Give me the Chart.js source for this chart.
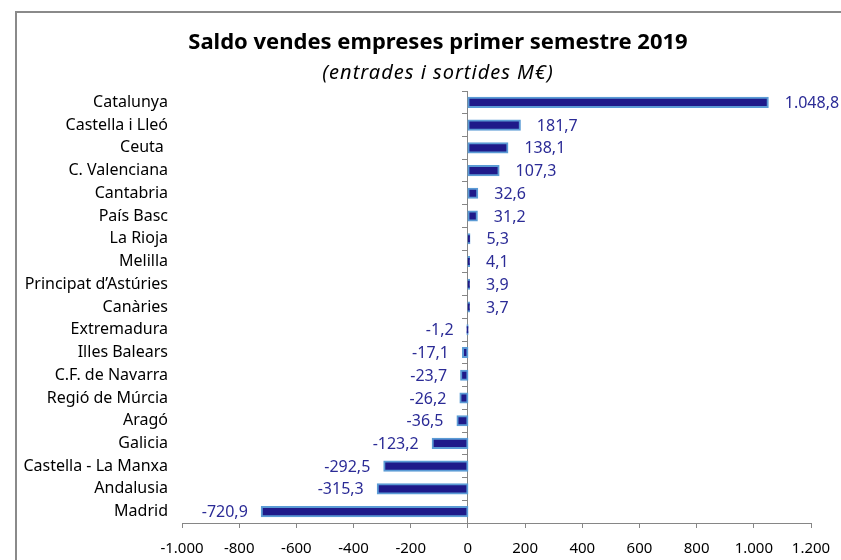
<!DOCTYPE html>
<html>
<head>
<meta charset="utf-8">
<title>Saldo vendes empreses 2019</title>
<script src="https://cdn.jsdelivr.net/npm/chart.js@4.4.1/dist/chart.umd.min.js"></script>
<style>
    html, body { margin: 0; padding: 0; background: #fff; overflow: hidden; }
    #frame {
        position: absolute;
        left: 15px;
        top: 11px;
        width: 900px;
        height: 600px;
        border-left: 2px solid #8a8a8a;
        border-top: 2px solid #8a8a8a;
    }
    canvas { display: block; }
</style>
</head>
<body>
<div id="frame"><canvas id="saldoChart" width="842" height="560"></canvas></div>
<script>
const chartTitle = 'Saldo vendes empreses primer semestre 2019';
const chartSubtitle = '(entrades i sortides M€)';
const regions = [
    'Catalunya', 'Castella i Lleó', 'Ceuta ', 'C. Valenciana', 'Cantabria',
    'País Basc', 'La Rioja', 'Melilla', 'Principat d’Astúries', 'Canàries',
    'Extremadura', 'Illes Balears', 'C.F. de Navarra', 'Regió de Múrcia', 'Aragó',
    'Galicia', 'Castella - La Manxa', 'Andalusia', 'Madrid'
];
const saldo = [
    1048.8, 181.7, 138.1, 107.3, 32.6,
    31.2, 5.3, 4.1, 3.9, 3.7,
    -1.2, -17.1, -23.7, -26.2, -36.5,
    -123.2, -292.5, -315.3, -720.9
];
const xMin = -1000;
const xMax = 1200;
const xStep = 200;

const FONT = '"Noto Sans", "Open Sans", sans-serif';
const axisGray = '#868686';

// 1.048,8 style numbers
function formatValue(v, decimals) {
    const parts = Math.abs(v).toFixed(decimals).split('.');
    const intPart = parts[0].replace(/\B(?=(\d{3})+(?!\d))/g, '.');
    return (v < 0 ? '-' : '') + intPart + (parts[1] ? ',' + parts[1] : '');
}

// title centred on the whole canvas, not on the padded box
const centeredTitles = {
    id: 'centeredTitles',
    afterDraw(chart) {
        const c = chart.ctx;
        const mid = chart.width / 2;
        c.save();
        c.fillStyle = '#000';
        c.textAlign = 'center';
        c.textBaseline = 'middle';
        c.font = 'bold 22px ' + FONT;
        c.fillText(chartTitle, mid, 30);
        c.font = 'italic 20px ' + FONT;
        c.letterSpacing = '1px';
        c.fillText(chartSubtitle, mid, 60);
        c.restore();
    }
};

const valueLabels = {
    id: 'valueLabels',
    afterDatasetsDraw(chart) {
        const c = chart.ctx;
        const meta = chart.getDatasetMeta(0);
        c.save();
        c.font = '16px ' + FONT;
        c.fillStyle = '#2b2b96';
        c.textBaseline = 'middle';
        meta.data.forEach((bar, i) => {
            const v = saldo[i];
            const gap = v < 0 ? 14 : 17;
            c.textAlign = v < 0 ? 'right' : 'left';
            c.fillText(formatValue(v, 1), v < 0 ? bar.x - gap : bar.x + gap, bar.y + 1);
        });
        c.restore();
    }
};

const ctx = document.getElementById('saldoChart').getContext('2d');
new Chart(ctx, {
    type: 'bar',
    data: {
        labels: regions,
        datasets: [{
            data: saldo,
            backgroundColor: '#1f1a8a',
            borderColor: '#5b9bd5',
            borderWidth: 2,
            borderSkipped: false,
            inflateAmount: 1,
            categoryPercentage: 1,
            barPercentage: 0.4
        }]
    },
    options: {
        indexAxis: 'y',
        responsive: false,
        animation: false,
        layout: {
            padding: { left: 0, right: 48, top: 78, bottom: 3 }
        },
        plugins: {
            legend: { display: false },
            tooltip: { enabled: false }
        },
        scales: {
            x: {
                min: xMin,
                max: xMax,
                grid: {
                    drawOnChartArea: false,
                    color: axisGray,
                    tickLength: 5
                },
                border: { color: axisGray, width: 1 },
                ticks: {
                    stepSize: xStep,
                    padding: 12,
                    color: '#000',
                    font: { family: FONT, size: 15 },
                    callback: value => formatValue(value, 0)
                }
            },
            y: {
                grid: { display: false, drawTicks: false },
                border: { display: false },
                ticks: {
                    padding: 14,
                    color: '#000',
                    font: { family: FONT, size: 16 }
                },
                afterFit: scale => { scale.width = 165; }
            },
            zeroAxis: {
                type: 'category',
                axis: 'y',
                labels: regions,
                offset: true,
                position: { x: 0 },
                grid: {
                    offset: true,
                    drawOnChartArea: false,
                    color: axisGray,
                    tickLength: 5
                },
                border: { color: axisGray, width: 1 },
                ticks: { display: false }
            }
        }
    },
    plugins: [valueLabels, centeredTitles]
});
</script>
</body>
</html>
